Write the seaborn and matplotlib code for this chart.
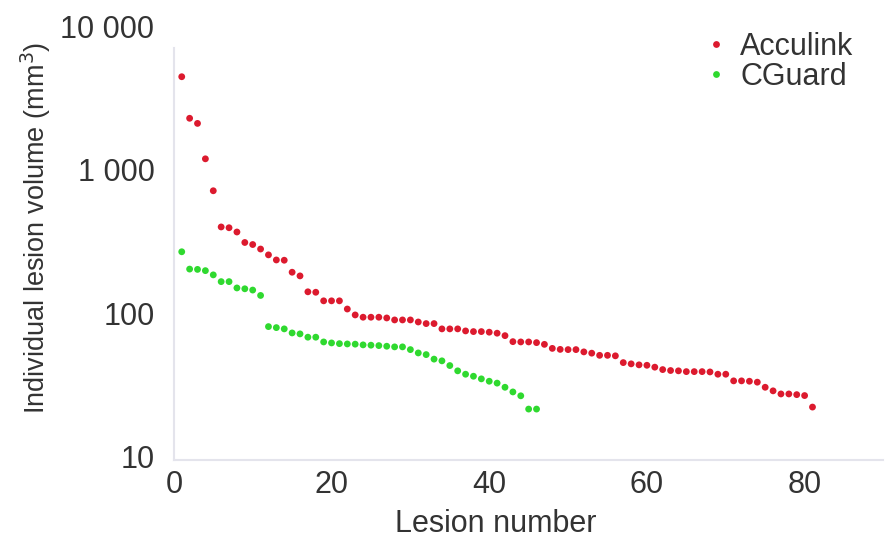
import matplotlib
matplotlib.use("Agg")
import matplotlib.pyplot as plt
import seaborn as sns
import pandas as pd
import numpy as np

# ---- data ----
acculink = [4440, 2280, 2100, 1190, 713, 399, 394, 368, 311, 301,
            280, 255, 235, 234, 193, 182, 141, 140, 122, 122,
            122, 107, 97.3, 93.8, 93.8, 93.8, 92.7, 89.8, 89.8, 89.8,
            86.9, 84.7, 84.7, 77.8, 77.8, 77.8, 75.3, 74.5, 74.5, 73.8,
            72.6, 69.8, 63.4, 63.1, 63.1, 62.4, 60.7, 56.9, 56.0, 55.8,
            55.8, 53.8, 52.7, 50.9, 50.9, 50.5, 45.3, 44.4, 43.7, 43.4,
            42.1, 40.5, 39.9, 39.7, 39.2, 39.2, 39.2, 39.0, 37.6, 37.6,
            33.8, 33.8, 33.6, 33.1, 30.5, 28.8, 27.4, 27.4, 27.1, 26.7,
            22.2]
cguard = [268, 203, 202, 198, 185, 166, 166, 150, 148, 145,
          133, 80.7, 79.4, 77.8, 72.9, 71.8, 68.1, 68.1, 63.1, 62.1,
          61.4, 61.1, 60.9, 60.2, 59.9, 59.5, 58.9, 58.3, 58.3, 55.8,
          52.9, 51.5, 47.9, 46.6, 43.2, 39.7, 37.6, 36.4, 34.9, 33.6,
          32.6, 30.5, 28.3, 26.6, 21.5, 21.5]
series_names = ["Acculink", "CGuard"]
y_ticks = [10, 100, 1000, 10000]
y_tick_labels = ["10", "100", "1 000", "10 000"]
x_ticks = [0, 20, 40, 60, 80]

df = pd.DataFrame({
    "Lesion number": list(range(1, len(acculink) + 1)) + list(range(1, len(cguard) + 1)),
    "volume": acculink + cguard,
    "Device": [series_names[0]] * len(acculink) + [series_names[1]] * len(cguard),
})

sns.set_style("white")
plt.rcParams["font.family"] = ["Liberation Sans", "DejaVu Sans"]
text_col = "#333333"
fs = 22

fig = plt.figure(figsize=(8.87, 5.37), dpi=100)
ax = fig.add_axes([0.196, 0.1434, 0.80, 0.808])

palette = {"Acculink": "#dc1a2e", "CGuard": "#2fd92f"}
sns.scatterplot(data=df, x="Lesion number", y="volume", hue="Device",
                palette=palette, s=24, linewidth=0, ax=ax, legend=True)

ax.set_yscale("log")
ax.set_ylim(9.5, 10000)
ax.set_xlim(0, 90)
ax.set_yticks(y_ticks)
ax.set_yticklabels(y_tick_labels)
ax.minorticks_off()
ax.set_xticks(x_ticks)
ax.tick_params(axis="both", length=0, labelsize=fs, labelcolor=text_col)
ax.tick_params(axis="y", pad=14)
ax.tick_params(axis="x", pad=7)

ax.set_xlabel("Lesion number", fontsize=fs, color=text_col)
ax.set_ylabel("Individual lesion volume (mm$^3$)", fontsize=19.5, color=text_col)
ax.xaxis.set_label_coords(0.453, -0.112)
ax.yaxis.set_label_coords(-0.171, 0.535)

for s in ["top", "right"]:
    ax.spines[s].set_visible(False)
for s in ["left", "bottom"]:
    ax.spines[s].set_color("#e4e4ec")
    ax.spines[s].set_linewidth(1.5)
ax.spines["left"].set_bounds(9.5, 7000)

leg = ax.legend(loc="upper right", bbox_to_anchor=(0.975, 1.015), frameon=False,
                fontsize=fs, handlelength=1.0, handletextpad=0.3, labelspacing=0.0,
                markerscale=1.0, borderaxespad=0.0)
for t in leg.get_texts():
    t.set_color(text_col)

fig.savefig("out.png", dpi=100)
